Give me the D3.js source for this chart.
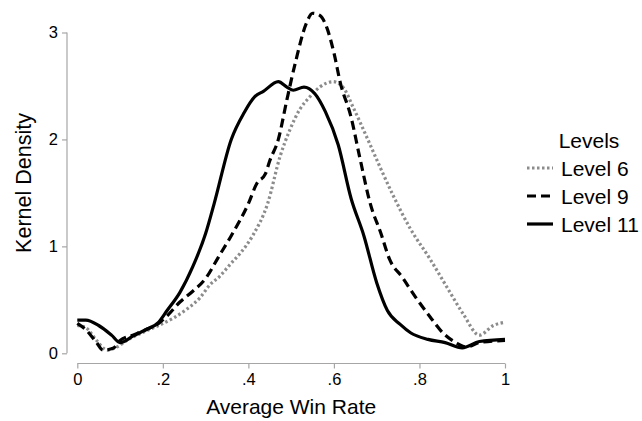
<!DOCTYPE html>
<html><head><meta charset="utf-8">
<script src="https://cdn.jsdelivr.net/npm/d3@7"></script>
<style>body{margin:0;background:#fff;} text{font-family:"Liberation Sans",Arial,sans-serif;}</style>
</head><body>
<svg id="chart" width="642" height="421"></svg>
<script>
const seriesNames = ["Level 6", "Level 9", "Level 11"];
const level6X = [0,.02,.045,.07,.093,.12,.15,.19,.225,.255,.287,.31,.333,.357,.38,.41,.445,.474,.497,.52,.544,.567,.598,.621,.645,.677,.708,.738,.778,.825,.864,.902,.94,.973,1.0];
const level6Y = [.26,.24,.12,.03,.06,.13,.19,.26,.33,.41,.52,.64,.72,.83,.93,1.10,1.40,1.84,2.09,2.28,2.40,2.49,2.54,2.49,2.30,2.02,1.74,1.48,1.17,.88,.62,.37,.17,.26,.29];
const level9X = [0,.02,.045,.06,.085,.10,.13,.16,.19,.21,.24,.27,.30,.33,.36,.40,.42,.44,.45,.47,.49,.51,.535,.55,.567,.583,.60,.615,.64,.66,.685,.71,.73,.76,.79,.825,.855,.885,.91,.94,1.0];
const level9Y = [.28,.22,.10,.03,.05,.12,.17,.22,.28,.35,.48,.58,.70,.90,1.10,1.40,1.59,1.68,1.80,2.0,2.37,2.72,3.08,3.18,3.16,3.05,2.81,2.53,2.21,1.84,1.40,1.12,.88,.71,.53,.34,.19,.10,.06,.10,.12];
const level11X = [0,.02,.05,.08,.10,.13,.16,.19,.21,.24,.27,.30,.32,.36,.39,.415,.435,.47,.49,.505,.53,.555,.58,.61,.64,.67,.70,.725,.755,.78,.82,.86,.90,.94,1.0];
const level11Y = [.31,.31,.26,.17,.10,.16,.22,.29,.40,.57,.81,1.12,1.40,2.0,2.25,2.40,2.45,2.54,2.49,2.46,2.49,2.43,2.26,1.95,1.45,1.10,.66,.40,.27,.19,.13,.10,.05,.11,.13];
const xTicks = [0,.2,.4,.6,.8,1];
const xTickLabels = ["0",".2",".4",".6",".8","1"];
const yTicks = [0,1,2,3];

const styles = [
  {color:"#8c8c8c", dash:"2.5,2.5", width:3.2},
  {color:"#000", dash:"9,5", width:3.2},
  {color:"#000", dash:null, width:3.2}
];
const data = [
  d3.zip(level6X, level6Y),
  d3.zip(level9X, level9Y),
  d3.zip(level11X, level11Y)
];

const svg = d3.select("#chart");
const x = d3.scaleLinear().domain([0,1]).range([77.3,505]);
const y = d3.scaleLinear().domain([0,3]).range([353.3,32.5]);
const axisColor = "#a6a6a6";

const yAxis = svg.append("g").attr("transform","translate(67,0)")
  .call(d3.axisLeft(y).tickValues(yTicks).tickFormat(d3.format("d")).tickSize(5).tickPadding(4));
const xAxis = svg.append("g").attr("transform","translate(0,363.5)")
  .call(d3.axisBottom(x).tickValues(xTicks).tickFormat((d,i)=>xTickLabels[i]).tickSize(5).tickPadding(5));
[yAxis,xAxis].forEach(g=>{
  g.select(".domain").attr("stroke",axisColor).attr("stroke-width",1.2);
  g.selectAll(".tick line").attr("stroke",axisColor).attr("stroke-width",1.2);
  g.selectAll(".tick text").attr("fill","#000").style("font-size","16.5px")
   .style("font-family","'Liberation Sans',Arial,sans-serif");
});
yAxis.select(".domain").attr("d", `M0,${y(3)}V${y(0)}`);
xAxis.select(".domain").attr("d", `M${x(0)},0H${x(1)}`);

const line = d3.line().x(d=>x(d[0])).y(d=>y(d[1])).curve(d3.curveMonotoneX);
data.forEach((s,i)=>{
  svg.append("path").datum(s).attr("d",line).attr("fill","none")
    .attr("stroke",styles[i].color).attr("stroke-width",styles[i].width)
    .attr("stroke-dasharray",styles[i].dash).attr("stroke-linejoin","round");
});

svg.append("text").attr("x",x(0.5)).attr("y",414).attr("text-anchor","middle")
  .style("font-size","21px").text("Average Win Rate");
svg.append("text").attr("transform",`translate(31,183) rotate(-90)`).attr("text-anchor","middle")
  .style("font-size","21.5px").text("Kernel Density");

const leg = svg.append("g");
leg.append("text").attr("x",589).attr("y",148).attr("text-anchor","middle")
  .style("font-size","21px").text("Levels");
seriesNames.forEach((n,i)=>{
  const cy = 168 + i*28;
  leg.append("line").attr("x1",527).attr("x2",553).attr("y1",cy).attr("y2",cy)
    .attr("stroke",styles[i].color).attr("stroke-width",styles[i].width)
    .attr("stroke-dasharray",styles[i].dash);
  leg.append("text").attr("x",561).attr("y",cy+7.5).style("font-size","21px").text(n);
});
</script>
</body></html>
